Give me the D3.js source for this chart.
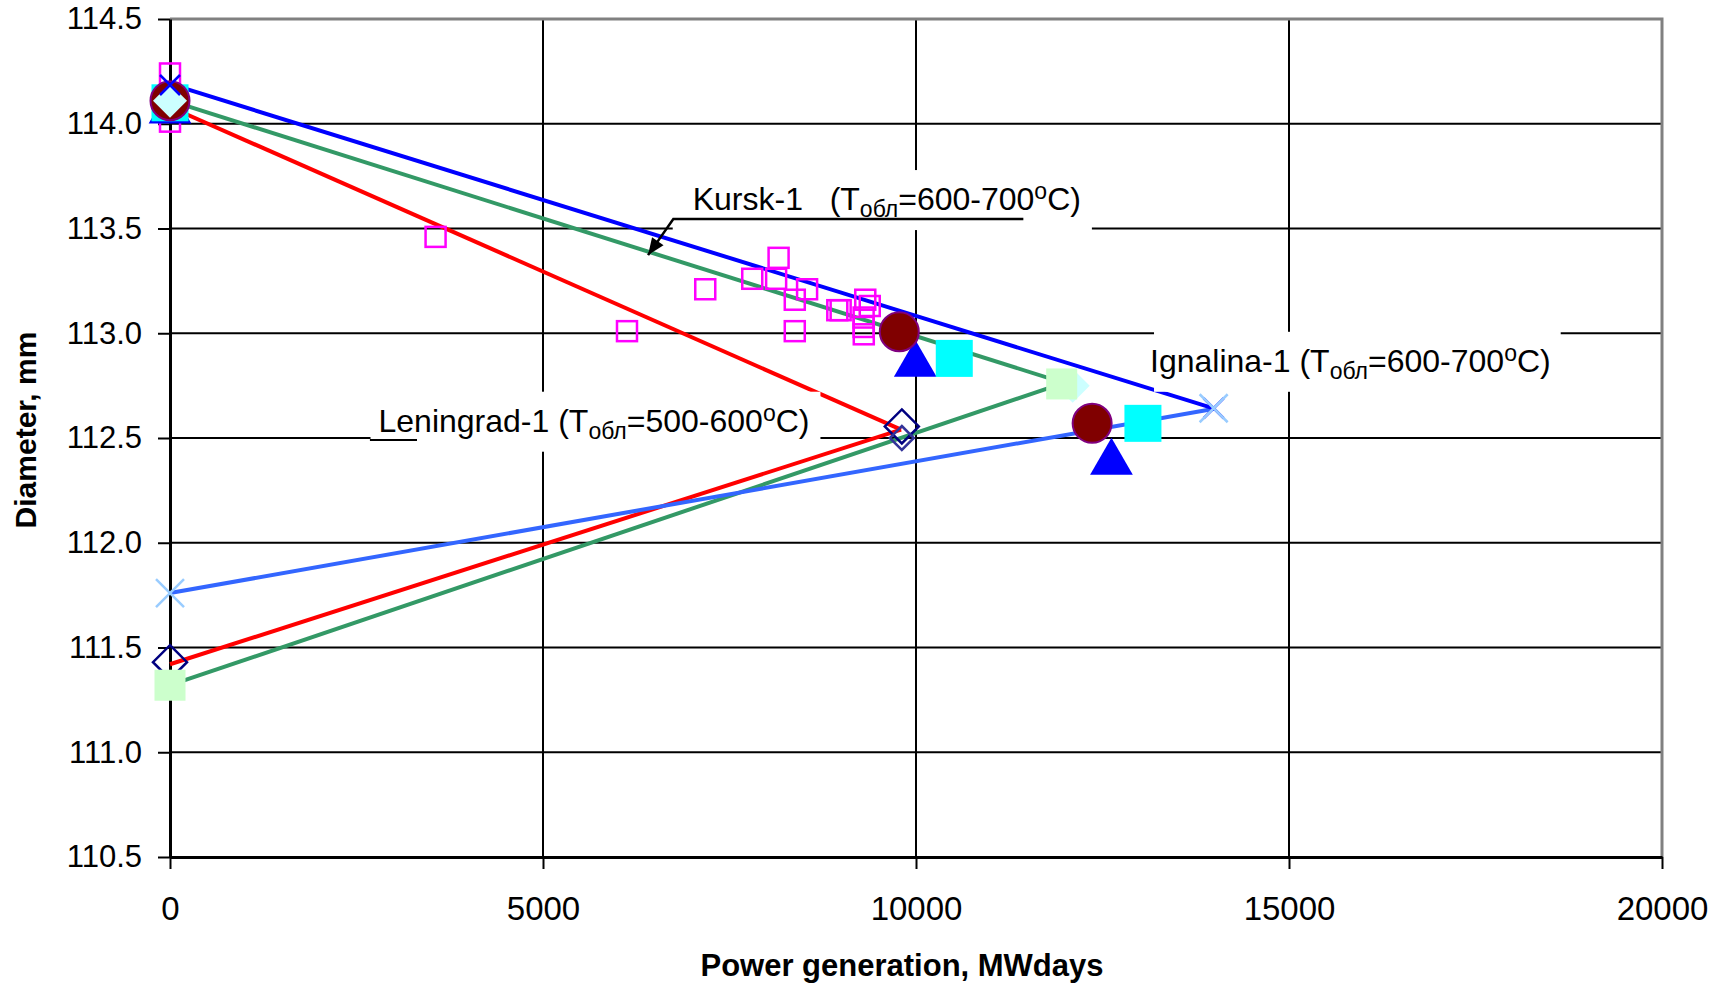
<!DOCTYPE html>
<html>
<head>
<meta charset="utf-8">
<script src="https://cdn.jsdelivr.net/npm/d3@7"></script>
<style>
  html, body { margin: 0; padding: 0; background: #fff; }
  svg { display: block; font-family: "Liberation Sans", Arial, sans-serif; }
</style>
</head>
<body>
<svg id="chart" width="1728" height="985"></svg>
<script>
// Axis ticks
const xTicks = [0, 5000, 10000, 15000, 20000];
const yTicks = [110.5, 111.0, 111.5, 112.0, 112.5, 113.0, 113.5, 114.0, 114.5];

// Trend lines: [power generation (MWdays), diameter (mm)]
const ignalinaUpper = [[0, 114.19], [14000, 112.64]];
const ignalinaLower = [[0, 111.76], [14000, 112.64]];
const kurskUpper = [[0, 114.11], [12100, 112.75]];
const kurskLower = [[0, 111.32], [11955, 112.76]];
const leningradUpper = [[0, 114.08], [9800, 112.54]];
const leningradLower = [[0, 111.42], [9800, 112.54]];

// Kursk-1 measurements (open squares)
const kurskMeasured = [
  [0, 114.24], [0, 114.01], [3560, 113.46], [6126, 113.01], [7175, 113.21],
  [7805, 113.26], [8158, 113.36], [8125, 113.26], [8375, 113.16], [8375, 113.01],
  [8540, 113.21], [8945, 113.11], [8990, 113.11], [9320, 113.16], [9380, 113.13],
  [9298, 113.075], [9298, 113.03], [9300, 112.995]
];

// Leningrad-1 points (open diamonds)
const leningradDiamondsA = [[0, 111.43], [9810, 112.555]];
const leningradDiamondsB = [[9810, 112.50]];

// Ignalina-1 points
const circlePoints = [[0, 114.11], [9776, 113.007], [12361, 112.57]];
const trianglePoints = [[0, 114.06], [9990, 112.851], [12620, 112.384]];
const cyanSquarePoints = [[0, 114.10], [10513, 112.88], [13042, 112.57]];

// End points of the trend lines
const kurskUpperEnds = [[0, 114.11], [12100, 112.75]];
const kurskLowerEnds = [[0, 111.32], [11953, 112.758]];
const ignalinaUpperEnds = [[0, 114.185], [13990, 112.642]];
const ignalinaLowerEnds = [[0, 111.76], [13990, 112.642]];

// Annotation texts: [name, subscript, range, degree mark, unit]
const kurskText = ["Kursk-1   (T", "обл", "=600-700", "o", "C)"];
const leningradText = ["Leningrad-1 (T", "обл", "=500-600", "o", "C)"];
const ignalinaText = ["Ignalina-1 (T", "обл", "=600-700", "o", "C)"];

const xTitle = "Power generation, MWdays";
const yTitle = "Diameter, mm";

const FONT = "'Liberation Sans', Arial, sans-serif";
const svg = d3.select("#chart");

const x = d3.scaleLinear().domain([0, 20000]).range([170, 1662]);
const y = d3.scaleLinear().domain([110.5, 114.5]).range([857, 19]);

// Gridlines
const grid = svg.append("g");
grid.selectAll("line.h").data(yTicks.slice(1, -1)).join("line")
  .attr("class", "h")
  .attr("x1", x(0)).attr("x2", x(20000))
  .attr("y1", d => y(d)).attr("y2", d => y(d))
  .attr("stroke", "#000").attr("stroke-width", 2);
grid.selectAll("line.v").data(xTicks.slice(1, -1)).join("line")
  .attr("class", "v")
  .attr("x1", d => x(d)).attr("x2", d => x(d))
  .attr("y1", y(110.5)).attr("y2", y(114.5))
  .attr("stroke", "#000").attr("stroke-width", 2);

// Plot frame (top and right)
svg.append("path")
  .attr("d", `M${x(0)},${y(114.5)}H${x(20000)}V${y(110.5)}`)
  .attr("fill", "none").attr("stroke", "#808080").attr("stroke-width", 3);

// Axes
const gx = svg.append("g")
  .attr("transform", `translate(0,${y(110.5)})`)
  .call(d3.axisBottom(x).tickValues(xTicks).tickSize(12).tickSizeOuter(0).tickFormat(d3.format("d")));
gx.attr("font-family", FONT).attr("font-size", 33);
gx.select(".domain").attr("stroke", "#000").attr("stroke-width", 3);
gx.selectAll(".tick line").attr("stroke", "#000").attr("stroke-width", 2);
gx.selectAll(".tick text").attr("fill", "#000").attr("y", 40);

const gy = svg.append("g")
  .attr("transform", `translate(${x(0)},0)`)
  .call(d3.axisLeft(y).tickValues(yTicks).tickSize(12).tickSizeOuter(0).tickFormat(d3.format(".1f")));
gy.attr("font-family", FONT).attr("font-size", 31);
gy.select(".domain").attr("stroke", "#000").attr("stroke-width", 3);
gy.selectAll(".tick line").attr("stroke", "#000").attr("stroke-width", 2);
gy.selectAll(".tick text").attr("fill", "#000").attr("x", -28);

// Axis titles
svg.append("text")
  .attr("x", 902).attr("y", 976)
  .attr("text-anchor", "middle")
  .attr("font-size", 31).attr("font-weight", "bold")
  .text(xTitle);
svg.append("text")
  .attr("transform", "translate(36,430) rotate(-90)")
  .attr("text-anchor", "middle")
  .attr("font-size", 30).attr("font-weight", "bold")
  .text(yTitle);

// Trend lines
const line = d3.line().x(d => x(d[0])).y(d => y(d[1]));
const lines = svg.append("g").attr("fill", "none").attr("stroke-width", 4);
[
  [leningradUpper, "#FF0000"], [leningradLower, "#FF0000"],
  [kurskUpper, "#339966"], [kurskLower, "#339966"],
  [ignalinaLower, "#3366FF"], [ignalinaUpper, "#0000FF"]
].forEach(([data, color]) => {
  lines.append("path").attr("d", line(data)).attr("stroke", color);
});

// Markers
const marks = svg.append("g");
function squares(data, side, fill, stroke, sw) {
  marks.append("g").selectAll("rect").data(data).join("rect")
    .attr("x", d => x(d[0]) - side / 2).attr("y", d => y(d[1]) - side / 2)
    .attr("width", side).attr("height", side)
    .attr("fill", fill).attr("stroke", stroke).attr("stroke-width", sw);
}
function diamonds(data, half, fill, stroke, sw) {
  marks.append("g").selectAll("path").data(data).join("path")
    .attr("d", d => {
      const cx = x(d[0]), cy = y(d[1]);
      return `M${cx},${cy - half}L${cx + half},${cy}L${cx},${cy + half}L${cx - half},${cy}Z`;
    })
    .attr("fill", fill).attr("stroke", stroke).attr("stroke-width", sw);
}
function crosses(data, half, stroke, sw) {
  marks.append("g").selectAll("path").data(data).join("path")
    .attr("d", d => {
      const cx = x(d[0]), cy = y(d[1]);
      return `M${cx - half},${cy - half}L${cx + half},${cy + half}M${cx - half},${cy + half}L${cx + half},${cy - half}`;
    })
    .attr("fill", "none").attr("stroke", stroke).attr("stroke-width", sw);
}

squares(kurskMeasured, 20, "none", "#FF00FF", 2.5);
diamonds(leningradDiamondsA, 17, "none", "#000080", 2.5);
diamonds(leningradDiamondsB, 12, "none", "#333399", 2.5);

marks.append("g").selectAll("path").data(trianglePoints).join("path")
  .attr("transform", d => `translate(${x(d[0])},${y(d[1])})`)
  .attr("d", d3.symbol().type(d3.symbolTriangle).size(790))
  .attr("fill", "#0000FF");

squares(cyanSquarePoints, 37, "#00FFFF", "none", 0);

marks.append("g").selectAll("circle").data(circlePoints).join("circle")
  .attr("cx", d => x(d[0])).attr("cy", d => y(d[1])).attr("r", 19.5)
  .attr("fill", "#800000").attr("stroke", "#800080").attr("stroke-width", 2);

diamonds(kurskUpperEnds, 17, "#CCFFFF", "none", 0);
squares(kurskLowerEnds, 31, "#CCFFCC", "none", 0);
crosses(ignalinaUpperEnds, 10, "#0000FF", 2.5);
crosses(ignalinaLowerEnds, 14, "#99CCFF", 2.5);

// Annotations
const notes = svg.append("g").attr("font-family", FONT);
function label(parts, at, pad) {
  const g = notes.append("g");
  const rect = g.append("rect").attr("fill", "#fff");
  const t = g.append("text")
    .attr("x", x(at[0])).attr("y", y(at[1]))
    .attr("font-size", 32).attr("fill", "#000")
    .style("white-space", "pre");
  t.append("tspan").text(parts[0]);
  t.append("tspan").attr("font-size", 23).attr("dy", 7).text(parts[1]);
  t.append("tspan").attr("dy", -7).text(parts[2]);
  t.append("tspan").attr("font-size", 23).attr("dy", -11).text(parts[3]);
  t.append("tspan").attr("dy", 11).text(parts[4]);
  const b = t.node().getBBox();
  rect.attr("x", b.x - pad[0]).attr("y", b.y - pad[1])
    .attr("width", b.width + pad[0] + pad[2]).attr("height", b.height + pad[1] + pad[3]);
}
label(kurskText, [7007, 113.588], [20, 8, 11, 8]);
label(leningradText, [2795, 112.53], [8, 8, 11, 8]);
label(ignalinaText, [13137, 112.816], [-4, 8, 10, 8]);

// Leader lines
const kurskLeader = [[11439, 113.545], [6747, 113.545], [6408, 113.373]];
notes.append("path").attr("d", line(kurskLeader))
  .attr("fill", "none").attr("stroke", "#000").attr("stroke-width", 2.5);
{
  const p1 = kurskLeader[1], p2 = kurskLeader[2];
  const tx = x(p2[0]), ty = y(p2[1]);
  const dx = tx - x(p1[0]), dy = ty - y(p1[1]);
  const len = Math.hypot(dx, dy), ux = dx / len, uy = dy / len;
  const L = 17, Wd = 7;
  const bx = tx - ux * L, by = ty - uy * L;
  notes.append("path")
    .attr("d", `M${tx},${ty}L${bx - uy * Wd},${by + ux * Wd}L${bx + uy * Wd},${by - ux * Wd}Z`)
    .attr("fill", "#000");
}
const leningradLeader = [[2680, 112.49], [3311, 112.49]];
notes.append("path").attr("d", line(leningradLeader))
  .attr("fill", "none").attr("stroke", "#000").attr("stroke-width", 2);
</script>
</body>
</html>
